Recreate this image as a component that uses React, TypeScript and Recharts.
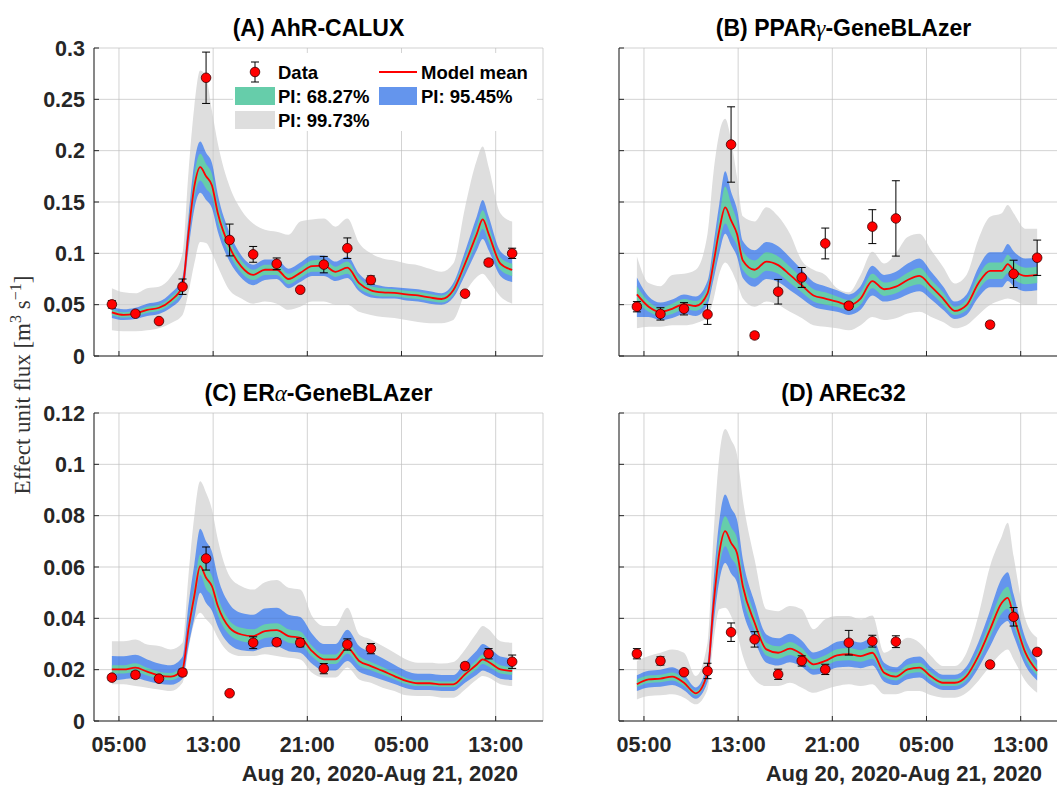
import React from "react";
import { ComposedChart, Area, Line, Scatter, ErrorBar, XAxis, YAxis, CartesianGrid } from "recharts";

// model output times (hours after Aug 20 00:00)
const hours = [4.4, 5.4, 6.4, 7.4, 8.4, 9.4, 10.4, 10.9, 11.4, 11.9, 12.4, 12.9, 13.4, 14.4, 15.4, 16.4, 17.4, 18.4, 19.4, 20.4, 21.4, 22.4, 23.4, 24.4, 25.4, 26.4, 27.4, 28.4, 29.4, 30.4, 31.4, 32.4, 33.4, 34.4, 35.4, 35.9, 36.4, 37.4, 38.4];
// sampling times of the measured data
const sampleHours = [4.4, 6.4, 8.4, 10.4, 12.4, 14.4, 16.4, 18.4, 20.4, 22.4, 24.4, 26.4, 34.4, 36.4, 38.4];
const tickHours = [5, 13, 21, 29, 37];
const tickLabels = ["05:00", "13:00", "21:00", "05:00", "13:00"];
const dateLabel = "Aug 20, 2020-Aug 21, 2020";

const yTicksAB = [0, 0.05, 0.1, 0.15, 0.2, 0.25, 0.3];
const yLabelsAB = ["0", "0.05", "0.1", "0.15", "0.2", "0.25", "0.3"];
const yTicksCD = [0, 0.02, 0.04, 0.06, 0.08, 0.1, 0.12];
const yLabelsCD = ["0", "0.02", "0.04", "0.06", "0.08", "0.1", "0.12"];

// (A) AhR-CALUX
const aMean = [0.0425, 0.040, 0.0415, 0.045, 0.047, 0.054, 0.068, 0.119, 0.165, 0.184, 0.175, 0.166, 0.139, 0.106, 0.087, 0.079, 0.084, 0.084, 0.075, 0.081, 0.0875, 0.088, 0.082, 0.086, 0.071, 0.064, 0.062, 0.0615, 0.060, 0.059, 0.057, 0.0555, 0.064, 0.090, 0.119, 0.133, 0.119, 0.090, 0.084];
const aLo68 = [0.0397, 0.0374, 0.0388, 0.042, 0.044, 0.0505, 0.0636, 0.111, 0.154, 0.171, 0.163, 0.155, 0.130, 0.099, 0.081, 0.074, 0.079, 0.079, 0.070, 0.076, 0.082, 0.082, 0.077, 0.080, 0.066, 0.060, 0.058, 0.058, 0.0565, 0.0555, 0.0535, 0.052, 0.060, 0.084, 0.111, 0.124, 0.111, 0.084, 0.078];
const aHi68 = [0.0453, 0.0426, 0.0442, 0.048, 0.050, 0.0575, 0.0724, 0.127, 0.176, 0.197, 0.187, 0.177, 0.148, 0.113, 0.093, 0.084, 0.089, 0.089, 0.080, 0.086, 0.093, 0.094, 0.087, 0.092, 0.076, 0.068, 0.066, 0.065, 0.0635, 0.0625, 0.0605, 0.059, 0.068, 0.096, 0.127, 0.142, 0.127, 0.096, 0.090];
const aLo95 = [0.037, 0.035, 0.036, 0.039, 0.041, 0.047, 0.059, 0.103, 0.143, 0.159, 0.152, 0.144, 0.121, 0.092, 0.076, 0.069, 0.074, 0.075, 0.066, 0.072, 0.078, 0.078, 0.073, 0.076, 0.063, 0.057, 0.056, 0.056, 0.054, 0.053, 0.051, 0.050, 0.057, 0.079, 0.103, 0.114, 0.103, 0.078, 0.072];
const aHi95 = [0.048, 0.0455, 0.047, 0.051, 0.053, 0.061, 0.077, 0.135, 0.188, 0.209, 0.198, 0.188, 0.157, 0.120, 0.098, 0.089, 0.094, 0.094, 0.085, 0.091, 0.098, 0.098, 0.092, 0.097, 0.080, 0.071, 0.068, 0.067, 0.066, 0.065, 0.063, 0.061, 0.071, 0.102, 0.136, 0.152, 0.136, 0.102, 0.095];
const aLo99 = [0.025, 0.024, 0.024, 0.025, 0.027, 0.032, 0.040, 0.061, 0.090, 0.111, 0.110, 0.100, 0.087, 0.064, 0.056, 0.051, 0.053, 0.051, 0.045, 0.048, 0.053, 0.053, 0.050, 0.050, 0.043, 0.040, 0.038, 0.037, 0.035, 0.033, 0.032, 0.032, 0.035, 0.061, 0.077, 0.080, 0.074, 0.058, 0.051];
const aHi99 = [0.066, 0.062, 0.061, 0.066, 0.0675, 0.077, 0.100, 0.178, 0.243, 0.278, 0.272, 0.239, 0.207, 0.165, 0.142, 0.129, 0.123, 0.121, 0.118, 0.131, 0.133, 0.134, 0.126, 0.134, 0.110, 0.100, 0.095, 0.093, 0.090, 0.0885, 0.085, 0.082, 0.090, 0.145, 0.191, 0.204, 0.184, 0.139, 0.131];
const aObs = [0.0503, 0.0412, 0.034, 0.0675, 0.271, 0.113, 0.099, 0.0898, 0.0645, 0.089, 0.105, 0.074, 0.0607, 0.091, 0.100];
const aErr = [0.0036, 0.002, 0.0015, 0.0075, 0.025, 0.0155, 0.0077, 0.0057, 0.002, 0.008, 0.010, 0.004, 0.002, 0.003, 0.005];

// (B) PPARγ-GeneBLAzer
const bMean = [0.060, 0.048, 0.043, 0.046, 0.0506, 0.0487, 0.061, 0.090, 0.1226, 0.1447, 0.132, 0.119, 0.093, 0.084, 0.092, 0.0885, 0.079, 0.069, 0.059, 0.056, 0.053, 0.0496, 0.056, 0.073, 0.065, 0.0675, 0.074, 0.078, 0.0675, 0.056, 0.044, 0.0496, 0.0707, 0.083, 0.083, 0.0895, 0.0837, 0.078, 0.079];
const bLo68 = [0.052, 0.043, 0.039, 0.041, 0.0455, 0.044, 0.055, 0.081, 0.110, 0.129, 0.118, 0.107, 0.084, 0.0756, 0.083, 0.080, 0.071, 0.062, 0.053, 0.050, 0.048, 0.0446, 0.050, 0.066, 0.0585, 0.061, 0.067, 0.070, 0.061, 0.050, 0.040, 0.0446, 0.064, 0.075, 0.075, 0.0805, 0.075, 0.070, 0.071];
const bHi68 = [0.068, 0.053, 0.047, 0.051, 0.0555, 0.0535, 0.067, 0.099, 0.135, 0.165, 0.148, 0.131, 0.102, 0.093, 0.101, 0.097, 0.087, 0.076, 0.065, 0.062, 0.058, 0.0546, 0.062, 0.080, 0.0715, 0.074, 0.081, 0.086, 0.074, 0.062, 0.048, 0.0546, 0.078, 0.091, 0.091, 0.0985, 0.092, 0.086, 0.087];
const bLo95 = [0.038, 0.038, 0.035, 0.037, 0.041, 0.039, 0.050, 0.074, 0.100, 0.119, 0.108, 0.097, 0.076, 0.0675, 0.075, 0.072, 0.064, 0.056, 0.048, 0.045, 0.043, 0.040, 0.045, 0.059, 0.053, 0.055, 0.060, 0.063, 0.055, 0.045, 0.036, 0.040, 0.057, 0.067, 0.067, 0.073, 0.068, 0.063, 0.064];
const bHi95 = [0.0765, 0.058, 0.052, 0.055, 0.060, 0.058, 0.073, 0.108, 0.148, 0.180, 0.160, 0.143, 0.112, 0.103, 0.111, 0.107, 0.096, 0.084, 0.072, 0.068, 0.064, 0.060, 0.068, 0.088, 0.079, 0.082, 0.090, 0.095, 0.082, 0.068, 0.053, 0.060, 0.086, 0.101, 0.101, 0.109, 0.102, 0.095, 0.096];
const bLo99 = [0.027, 0.0285, 0.0285, 0.030, 0.030, 0.032, 0.038, 0.0545, 0.080, 0.091, 0.084, 0.071, 0.056, 0.048, 0.053, 0.050, 0.043, 0.037, 0.030, 0.0285, 0.027, 0.025, 0.030, 0.038, 0.035, 0.0367, 0.0415, 0.043, 0.038, 0.033, 0.027, 0.030, 0.040, 0.0496, 0.0545, 0.056, 0.0545, 0.0496, 0.0496];
const bHi99 = [0.097, 0.071, 0.068, 0.079, 0.080, 0.084, 0.119, 0.178, 0.217, 0.231, 0.210, 0.1745, 0.136, 0.131, 0.145, 0.136, 0.119, 0.093, 0.084, 0.079, 0.066, 0.062, 0.079, 0.1015, 0.090, 0.100, 0.116, 0.119, 0.103, 0.087, 0.0707, 0.079, 0.1135, 0.1356, 0.139, 0.147, 0.139, 0.124, 0.124];
const bObs = [0.048, 0.041, 0.046, 0.0405, 0.206, 0.020, 0.0626, 0.0765, 0.1096, 0.049, 0.126, 0.134, 0.0305, 0.080, 0.0957];
const bErr = [0.005, 0.006, 0.006, 0.0097, 0.0367, 0.003, 0.012, 0.0097, 0.015, 0.003, 0.0165, 0.0367, 0.003, 0.0133, 0.0172];

// (C) ERα-GeneBLAzer
const cMean = [0.0201, 0.0201, 0.0208, 0.0192, 0.0178, 0.0173, 0.0201, 0.0357, 0.0487, 0.0603, 0.0558, 0.0525, 0.0448, 0.0363, 0.0337, 0.0331, 0.035, 0.0354, 0.0331, 0.0324, 0.0272, 0.024, 0.024, 0.0285, 0.0234, 0.0214, 0.0195, 0.0175, 0.0156, 0.0147, 0.0147, 0.0143, 0.0143, 0.0182, 0.022, 0.024, 0.023, 0.0201, 0.0195];
const cLo68 = [0.0185, 0.0185, 0.0191, 0.0177, 0.0164, 0.0159, 0.0185, 0.033, 0.045, 0.057, 0.0515, 0.0485, 0.0413, 0.0335, 0.0311, 0.0305, 0.0323, 0.0327, 0.0305, 0.0299, 0.0251, 0.0222, 0.0222, 0.0263, 0.0216, 0.0198, 0.018, 0.0162, 0.0144, 0.0136, 0.0136, 0.0132, 0.0132, 0.0168, 0.0203, 0.0222, 0.0212, 0.0185, 0.018];
const cHi68 = [0.0217, 0.0217, 0.0225, 0.0207, 0.0192, 0.0187, 0.0217, 0.0385, 0.0525, 0.0649, 0.06, 0.0565, 0.0483, 0.0391, 0.0363, 0.0357, 0.0377, 0.0381, 0.0357, 0.0349, 0.0293, 0.0259, 0.0259, 0.0307, 0.0252, 0.023, 0.021, 0.0189, 0.0168, 0.0159, 0.0159, 0.0154, 0.0154, 0.0197, 0.0238, 0.0259, 0.0248, 0.0217, 0.021];
const cLo95 = [0.0156, 0.0163, 0.0168, 0.0156, 0.0145, 0.0141, 0.0165, 0.029, 0.04, 0.05, 0.046, 0.043, 0.0368, 0.0298, 0.0276, 0.0272, 0.0287, 0.029, 0.0272, 0.0266, 0.0223, 0.0197, 0.0197, 0.0234, 0.0192, 0.0175, 0.016, 0.0144, 0.0128, 0.0121, 0.0121, 0.0117, 0.0117, 0.0149, 0.018, 0.0197, 0.0189, 0.0165, 0.016];
const cHi95 = [0.0253, 0.0252, 0.0258, 0.024, 0.0224, 0.0217, 0.025, 0.045, 0.061, 0.0749, 0.07, 0.066, 0.056, 0.0455, 0.0421, 0.0414, 0.0438, 0.0441, 0.0414, 0.0405, 0.034, 0.03, 0.03, 0.0356, 0.0292, 0.0268, 0.0244, 0.0219, 0.0195, 0.0184, 0.0184, 0.0179, 0.0179, 0.0228, 0.0275, 0.03, 0.0288, 0.0251, 0.0244];
const cLo99 = [0.0143, 0.0143, 0.0136, 0.013, 0.0123, 0.0117, 0.0149, 0.0279, 0.0383, 0.0422, 0.0396, 0.037, 0.0324, 0.0266, 0.0253, 0.0253, 0.026, 0.0253, 0.0246, 0.024, 0.0188, 0.0169, 0.0169, 0.0208, 0.0162, 0.0149, 0.013, 0.0117, 0.01, 0.0097, 0.0097, 0.0091, 0.0091, 0.0123, 0.0162, 0.0175, 0.0169, 0.0143, 0.0136];
const cHi99 = [0.0311, 0.0311, 0.0318, 0.0298, 0.0292, 0.0279, 0.0305, 0.0564, 0.0798, 0.0934, 0.0889, 0.0824, 0.0707, 0.0564, 0.0525, 0.0512, 0.0541, 0.0549, 0.0519, 0.0512, 0.0409, 0.037, 0.037, 0.0441, 0.0337, 0.0318, 0.0292, 0.0266, 0.024, 0.0227, 0.0227, 0.0224, 0.023, 0.0279, 0.0344, 0.037, 0.0357, 0.0311, 0.0305];
const cObs = [0.0169, 0.018, 0.0165, 0.0189, 0.0633, 0.0108, 0.0305, 0.0307, 0.0305, 0.0204, 0.0298, 0.0282, 0.0214, 0.0262, 0.0231];
const cErr = [0.001, 0.0013, 0.001, 0.0013, 0.0045, 0.0007, 0.0023, 0.0013, 0.0016, 0.002, 0.0022, 0.002, 0.0012, 0.002, 0.0026];

// (D) AREc32
const dMean = [0.0143, 0.0162, 0.0165, 0.0173, 0.0149, 0.0108, 0.0188, 0.0448, 0.0655, 0.074, 0.0694, 0.0655, 0.0525, 0.0383, 0.0279, 0.0266, 0.0282, 0.026, 0.0221, 0.0234, 0.0256, 0.026, 0.0253, 0.0266, 0.0188, 0.0173, 0.0201, 0.0208, 0.0173, 0.0149, 0.0149, 0.0175, 0.0253, 0.0357, 0.0461, 0.048, 0.0409, 0.0266, 0.0195];
const dLo68 = [0.0132, 0.0148, 0.0151, 0.0158, 0.0136, 0.0099, 0.0172, 0.041, 0.06, 0.0681, 0.0635, 0.0598, 0.048, 0.035, 0.0255, 0.0243, 0.0257, 0.0237, 0.0202, 0.0214, 0.0234, 0.0237, 0.0231, 0.0243, 0.0172, 0.0158, 0.0183, 0.019, 0.0158, 0.0136, 0.0136, 0.016, 0.0231, 0.0326, 0.042, 0.0437, 0.0373, 0.0243, 0.0178];
const dHi68 = [0.0162, 0.0177, 0.018, 0.0189, 0.0163, 0.0118, 0.0205, 0.0488, 0.0712, 0.0798, 0.0755, 0.0712, 0.0572, 0.0418, 0.0305, 0.0291, 0.0308, 0.0284, 0.0241, 0.0256, 0.028, 0.0284, 0.0276, 0.0291, 0.0205, 0.0189, 0.0219, 0.0227, 0.0189, 0.0163, 0.0163, 0.0191, 0.0276, 0.0389, 0.0502, 0.0523, 0.0446, 0.0291, 0.0213];
const dLo95 = [0.0117, 0.0131, 0.0133, 0.014, 0.012, 0.0087, 0.0152, 0.037, 0.0545, 0.0616, 0.0575, 0.054, 0.043, 0.0312, 0.0227, 0.0216, 0.0229, 0.0211, 0.018, 0.019, 0.0208, 0.0211, 0.0206, 0.0216, 0.0153, 0.014, 0.0163, 0.0169, 0.014, 0.0121, 0.0121, 0.0142, 0.0206, 0.029, 0.0375, 0.039, 0.0332, 0.0216, 0.0158];
const dHi95 = [0.0178, 0.0196, 0.02, 0.0209, 0.0181, 0.0131, 0.0228, 0.0535, 0.078, 0.0882, 0.083, 0.0785, 0.063, 0.0462, 0.0337, 0.0322, 0.034, 0.0314, 0.0267, 0.0283, 0.0309, 0.0314, 0.0306, 0.0322, 0.0227, 0.0209, 0.0243, 0.0251, 0.0209, 0.018, 0.018, 0.0212, 0.0306, 0.0431, 0.0556, 0.058, 0.0494, 0.0322, 0.0236];
const dLo99 = [0.0084, 0.0097, 0.01, 0.0104, 0.0091, 0.0065, 0.0123, 0.0305, 0.0435, 0.0441, 0.0409, 0.0344, 0.0253, 0.0162, 0.0136, 0.0136, 0.0149, 0.013, 0.011, 0.0123, 0.0136, 0.0143, 0.0136, 0.0143, 0.0104, 0.0104, 0.0117, 0.0117, 0.01, 0.0091, 0.0091, 0.011, 0.0156, 0.0214, 0.0266, 0.0279, 0.024, 0.0156, 0.011];
const dHi99 = [0.0234, 0.0253, 0.0266, 0.0279, 0.0266, 0.0175, 0.0305, 0.072, 0.1031, 0.1138, 0.1096, 0.1038, 0.0863, 0.0629, 0.0435, 0.0428, 0.0448, 0.0435, 0.0357, 0.0396, 0.0409, 0.0409, 0.0396, 0.0411, 0.0266, 0.0292, 0.0324, 0.0305, 0.0253, 0.0214, 0.0214, 0.0266, 0.0409, 0.0603, 0.072, 0.0772, 0.0642, 0.0396, 0.0324];
const dObs = [0.0262, 0.0234, 0.019, 0.0195, 0.0346, 0.0318, 0.0182, 0.0234, 0.0201, 0.0305, 0.0311, 0.0309, 0.022, 0.0406, 0.0269];
const dErr = [0.002, 0.0016, 0.001, 0.003, 0.0036, 0.003, 0.002, 0.002, 0.002, 0.0048, 0.0023, 0.0023, 0.001, 0.0036, 0.001];

const AXIS = "#262626";
const GRID = "#e3e3e3";
const GRAY = "#dedede";
const BLUE = "#6495ed";
const GREEN = "#66cdaa";
const RED = "#ff0000";
const FONT = '"Liberation Sans", Arial, Helvetica, sans-serif';
const SERIF = '"Liberation Serif", "Times New Roman", serif';
const TICK_FS = 21.5;

const W = 560;
const H = 400;
const X_DOMAIN = [2.88, 41.02];

function buildRows(mean: number[], lo68: number[], hi68: number[], lo95: number[], hi95: number[], lo99: number[], hi99: number[]) {
    return hours.map((t, i) => ({
        t,
        mean: mean[i],
        pi68: [lo68[i], hi68[i]],
        pi95: [lo95[i], hi95[i]],
        pi99: [lo99[i], hi99[i]],
    }));
}

function buildObs(v: number[], e: number[]) {
    return sampleHours.map((t, i) => ({ t, v: v[i], e: e[i] }));
}

const Marker = (p: any) => {
    if (p.cx == null || p.cy == null) return null;
    return <circle cx={p.cx} cy={p.cy} r={4.8} fill={RED} stroke="#3a0000" strokeWidth={0.8} />;
};

function Panel({ left, top, rows, obs, yMax, yTicks, yLabels, showY, showX }: any) {
    const leftTick = (p: any) => (
        <g>
            <line x1={p.x} x2={p.x + 5} y1={p.y} y2={p.y} stroke={AXIS} />
            {showY && (
                <text x={p.x - 9} y={p.y} dy="0.36em" textAnchor="end" fontSize={TICK_FS} fontWeight="bold" fill={AXIS} fontFamily={FONT}>
                    {yLabels[p.index]}
                </text>
            )}
        </g>
    );
    const rightTick = (p: any) => <line x1={p.x} x2={p.x - 5} y1={p.y} y2={p.y} stroke={AXIS} />;
    const bottomTick = (p: any) => (
        <g>
            <line x1={p.x} x2={p.x} y1={p.y} y2={p.y - 5} stroke={AXIS} />
            {showX && (
                <text x={p.x} y={p.y + 23} dy="0.36em" textAnchor="middle" fontSize={TICK_FS} fontWeight="bold" fill={AXIS} fontFamily={FONT}>
                    {tickLabels[p.index]}
                </text>
            )}
        </g>
    );
    const topTick = (p: any) => <line x1={p.x} x2={p.x} y1={p.y} y2={p.y + 5} stroke={AXIS} />;

    return (
        <div style={{ position: "absolute", left, top, width: W, height: H }}>
            <ComposedChart width={W} height={H} data={rows} margin={{ top: 48, right: 17, bottom: 14, left: 34 }}>
                <CartesianGrid stroke={GRID} strokeWidth={1} />
                <Area dataKey="pi99" type="monotone" stroke="none" fill={GRAY} fillOpacity={1} isAnimationActive={false} activeDot={false} />
                <Area dataKey="pi95" type="monotone" stroke="none" fill={BLUE} fillOpacity={1} isAnimationActive={false} activeDot={false} />
                <Area dataKey="pi68" type="monotone" stroke="none" fill={GREEN} fillOpacity={1} isAnimationActive={false} activeDot={false} />
                {/* grid drawn again faintly over the bands, like MATLAB's translucent grid */}
                <CartesianGrid stroke="#000" strokeOpacity={0.07} strokeWidth={1} zIndex={150} />
                <Line dataKey="mean" type="monotone" stroke={RED} strokeWidth={1.8} dot={false} activeDot={false} isAnimationActive={false} />
                <Scatter data={obs} dataKey="v" shape={Marker} isAnimationActive={false}>
                    <ErrorBar dataKey="e" direction="y" width={4} stroke="#000" strokeWidth={1} />
                </Scatter>
                <XAxis dataKey="t" type="number" domain={X_DOMAIN} ticks={tickHours} interval={0} allowDataOverflow height={30}
                    tickSize={0} tickMargin={0} tick={bottomTick} axisLine={{ stroke: AXIS }} />
                <XAxis xAxisId="top" orientation="top" dataKey="t" type="number" domain={X_DOMAIN} ticks={tickHours} interval={0} allowDataOverflow height={0}
                    tickSize={0} tickMargin={0} tick={topTick} axisLine={{ stroke: AXIS }} />
                <YAxis type="number" domain={[0, yMax]} ticks={yTicks} interval={0} allowDataOverflow width={60}
                    tickSize={0} tickMargin={0} tick={leftTick} axisLine={{ stroke: AXIS }} />
                <YAxis yAxisId="right" orientation="right" type="number" domain={[0, yMax]} ticks={yTicks} interval={0} allowDataOverflow width={0}
                    tickSize={0} tickMargin={0} tick={rightTick} axisLine={{ stroke: AXIS }} />
            </ComposedChart>
        </div>
    );
}

const titleStyle = { fontFamily: FONT, fontWeight: "bold" as const, fontSize: 23, fill: "#000" };
const greek = { fontFamily: SERIF, fontStyle: "italic" as const, fontWeight: "normal" as const };

export default function App() {
    const rowsA = buildRows(aMean, aLo68, aHi68, aLo95, aHi95, aLo99, aHi99);
    const rowsB = buildRows(bMean, bLo68, bHi68, bLo95, bHi95, bLo99, bHi99);
    const rowsC = buildRows(cMean, cLo68, cHi68, cLo95, cHi95, cLo99, cHi99);
    const rowsD = buildRows(dMean, dLo68, dHi68, dLo95, dHi95, dLo99, dHi99);

    return (
        <div style={{ position: "fixed", left: 0, top: 0, width: 1057, height: 785, overflow: "hidden", background: "#fff" }}>
            <Panel left={0} top={0} rows={rowsA} obs={buildObs(aObs, aErr)} yMax={0.3} yTicks={yTicksAB} yLabels={yLabelsAB} showY showX={false} />
            <Panel left={525} top={0} rows={rowsB} obs={buildObs(bObs, bErr)} yMax={0.3} yTicks={yTicksAB} yLabels={yLabelsAB} showY={false} showX={false} />
            <Panel left={0} top={365} rows={rowsC} obs={buildObs(cObs, cErr)} yMax={0.12} yTicks={yTicksCD} yLabels={yLabelsCD} showY showX />
            <Panel left={525} top={365} rows={rowsD} obs={buildObs(dObs, dErr)} yMax={0.12} yTicks={yTicksCD} yLabels={yLabelsCD} showY={false} showX />

            <svg width={1057} height={785} style={{ position: "absolute", left: 0, top: 0, pointerEvents: "none" }}>
                <text x={318.5} y={28} dy="0.36em" textAnchor="middle" style={titleStyle}>(A) AhR-CALUX</text>
                <text x={843.5} y={28} dy="0.36em" textAnchor="middle" style={titleStyle}>
                    (B) PPAR<tspan style={greek}>γ</tspan>-GeneBLAzer
                </text>
                <text x={318.5} y={393} dy="0.36em" textAnchor="middle" style={titleStyle}>
                    (C) ER<tspan style={greek}>α</tspan>-GeneBLAzer
                </text>
                <text x={843.5} y={393} dy="0.36em" textAnchor="middle" style={titleStyle}>(D) AREc32</text>

                <text x={518} y={773} dy="0.36em" textAnchor="end" fontSize={22} fontWeight="bold" fill={AXIS} fontFamily={FONT}>{dateLabel}</text>
                <text x={1042} y={773} dy="0.36em" textAnchor="end" fontSize={22} fontWeight="bold" fill={AXIS} fontFamily={FONT}>{dateLabel}</text>

                <text transform="translate(23,385) rotate(-90)" textAnchor="middle" dy="0.3em" fontSize={23} fill="#333" fontFamily={SERIF}>
                    Effect unit flux [m<tspan dy={-9} fontSize={16}>3</tspan>
                    <tspan dy={9}> s</tspan>
                    <tspan dy={-9} fontSize={16}>−1</tspan>
                    <tspan dy={9}>]</tspan>
                </text>

                {/* legend of panel A */}
                <g fontFamily={FONT} fontWeight="bold" fontSize={18.5} fill="#000">
                    <rect x={233} y={53} width={304} height={78} fill="#fff" />
                    <line x1={255} x2={255} y1={62} y2={82} stroke="#000" />
                    <line x1={251} x2={259} y1={62} y2={62} stroke="#000" />
                    <line x1={251} x2={259} y1={82} y2={82} stroke="#000" />
                    <circle cx={255} cy={72} r={4.8} fill={RED} stroke="#3a0000" strokeWidth={0.8} />
                    <text x={278} y={72} dy="0.36em">Data</text>
                    <line x1={379} x2={417} y1={72} y2={72} stroke={RED} strokeWidth={1.8} />
                    <text x={421} y={72} dy="0.36em">Model mean</text>
                    <rect x={235} y={87} width={40} height={18} fill={GREEN} />
                    <text x={278} y={96} dy="0.36em">PI: 68.27%</text>
                    <rect x={379} y={87} width={38} height={18} fill={BLUE} />
                    <text x={421} y={96} dy="0.36em">PI: 95.45%</text>
                    <rect x={235} y={111} width={40} height={18} fill={GRAY} />
                    <text x={278} y={120} dy="0.36em">PI: 99.73%</text>
                </g>
            </svg>
        </div>
    );
}
